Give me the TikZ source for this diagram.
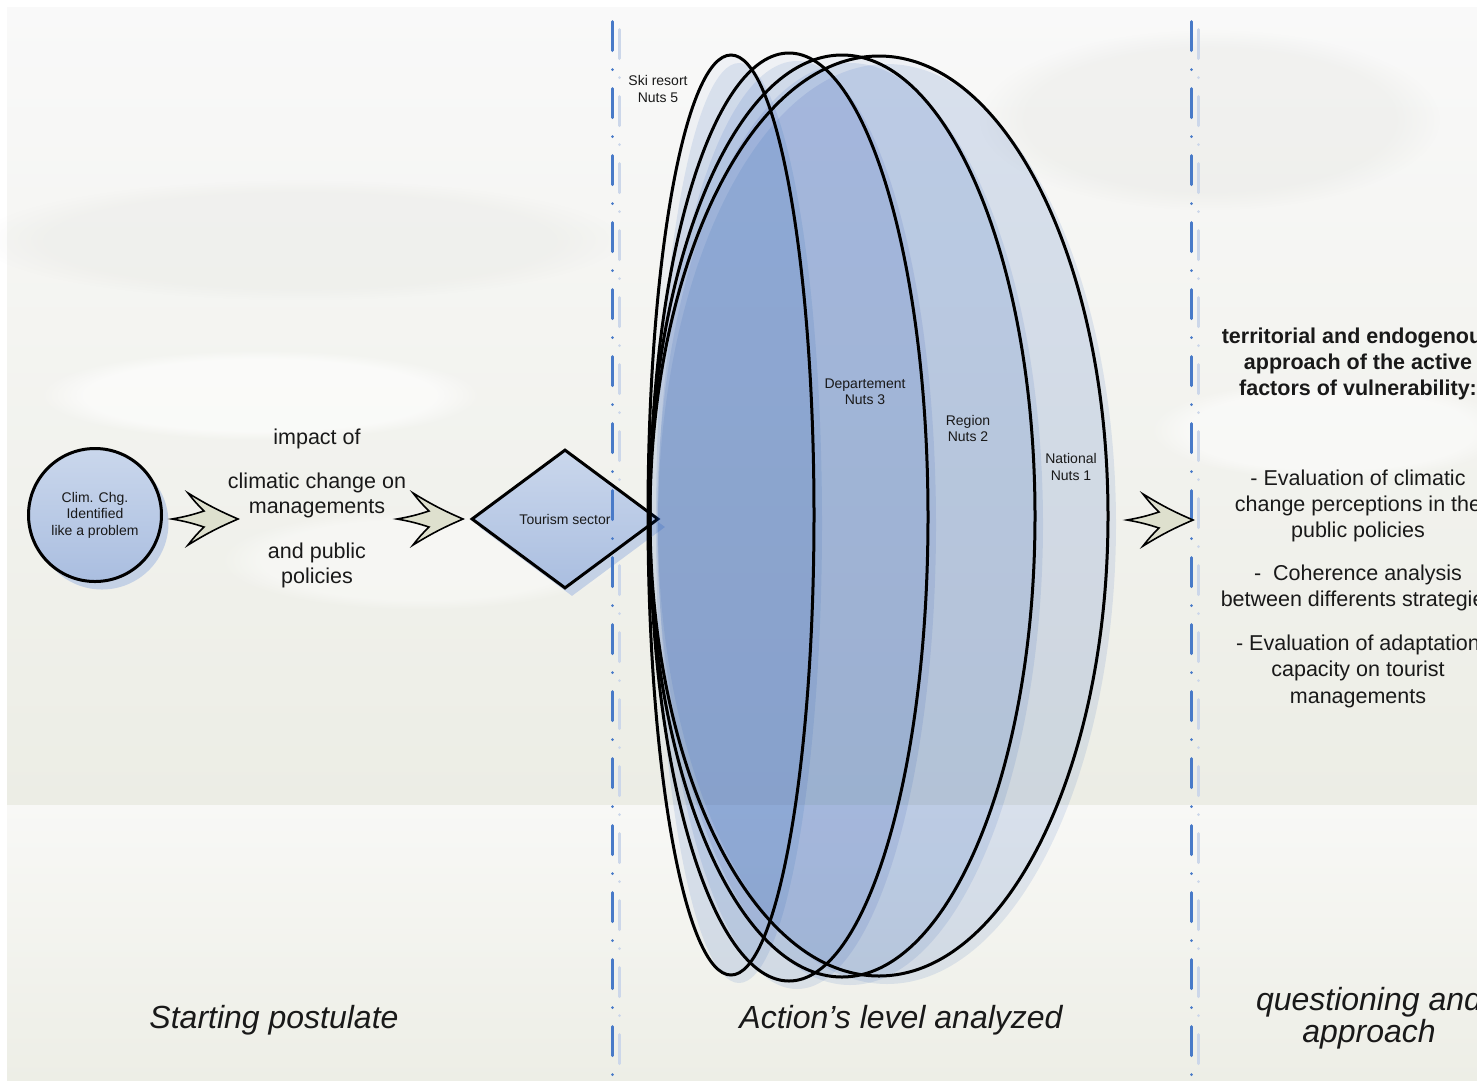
\documentclass[tikz,border=0pt]{standalone}
\usepackage{fontspec}
\setmainfont{Liberation Sans}
\usetikzlibrary{shapes.geometric,shadows,fadings}
\definecolor{bgA}{RGB}{249,249,249}
\definecolor{bgB}{RGB}{241,241,236}
\definecolor{bgC}{RGB}{236,237,229}
\definecolor{bgD}{RGB}{248,248,246}
\definecolor{bgE}{RGB}{237,238,230}
\definecolor{cloudgray}{RGB}{225,226,221}
\definecolor{lineblue}{RGB}{72,122,200}
\definecolor{lineshadow}{RGB}{204,215,234}
\definecolor{shadowblue}{RGB}{196,209,229}
\definecolor{ellblue}{RGB}{15,72,178}
\definecolor{circtop}{RGB}{202,215,236}
\definecolor{circbot}{RGB}{170,190,224}
\definecolor{chevfill}{RGB}{222,224,206}
\definecolor{txt}{RGB}{25,25,25}
\tikzset{
  dashdotline/.style={line width=3pt, line cap=round, dash pattern=on 29pt off 19pt on 0.01pt off 19pt},
  lvl/.style={ellipse, draw=black, line width=3pt, inner sep=0pt},
  ellshadow/.style={fill=ellblue, fill opacity=0.1},
  ellfill/.style={fill=ellblue, fill opacity=0.035},
  chevstyle/.style={draw=black, line width=1.6pt, fill=chevfill, line join=miter},
  chevron/.pic={\draw[chevstyle] (0,0) to[bend left=4] (-50,-26) to[bend right=4] (-34,-8) to[bend left=4] (-66,0) to[bend left=4] (-34,8) to[bend right=4] (-50,26) to[bend left=4] cycle;},
  midtxt/.style={anchor=base, inner sep=0pt, text=txt, font=\fontsize{21.5}{26}\selectfont},
  boldtxt/.style={anchor=base, inner sep=0pt, text=txt, font=\fontsize{21.5}{26}\selectfont\bfseries},
  smalltxt/.style={anchor=base, inner sep=0pt, text=txt, font=\fontsize{14}{16.5}\selectfont},
  bigtxt/.style={anchor=base, inner sep=0pt, text=txt, font=\fontsize{32}{38}\selectfont\itshape},
  myshadow/.style={drop shadow={shadow xshift=7pt, shadow yshift=-8pt, fill=shadowblue, opacity=1}},
  cloud/.style={path fading=circle with fuzzy edge 20 percent}
}
\begin{document}
\begin{tikzpicture}[x=1pt,y=-1pt]
\useasboundingbox (0,0) rectangle (1477,1080);
\begin{scope}
\clip (0,0) rectangle (1477,1080);
% background
\fill[white] (0,0) rectangle (1477,1080);
\shade[top color=bgA, middle color=bgB, bottom color=bgC] (7,7) rectangle (1477,805);
\shade[top color=bgD, bottom color=bgE] (7,805) rectangle (1477,1080);
% soft clouds
\fill[cloudgray, opacity=0.3, cloud] (1210,120) ellipse [x radius=230, y radius=90];
\fill[cloudgray, opacity=0.25, cloud] (300,240) ellipse [x radius=320, y radius=60];
\fill[white, opacity=0.6, cloud] (260,395) ellipse [x radius=220, y radius=45];
\fill[white, opacity=0.5, cloud] (1330,430) ellipse [x radius=180, y radius=50];
\fill[white, opacity=0.4, cloud] (420,560) ellipse [x radius=200, y radius=50];

% dash-dot separators
\coordinate (sepAtop) at (612,21.5);
\coordinate (sepAbot) at (612,1075);
\coordinate (sepBtop) at (1191,21.5);
\coordinate (sepBbot) at (1191,1075);
\draw[dashdotline, draw=lineshadow] ([shift={(7,8)}]sepAtop) -- ([shift={(7,8)}]sepAbot);
\draw[dashdotline, draw=lineshadow] ([shift={(7,8)}]sepBtop) -- ([shift={(7,8)}]sepBbot);

% circle
\node[circle, draw=black, line width=3pt, minimum size=133pt, inner sep=0pt,
      top color=circtop, bottom color=circbot, myshadow, align=center, text=txt,
      font=\fontsize{14}{16.5}\selectfont] (clim) at (95,515) {Clim. Chg.\\Identified\\like a problem};

% diamond
\node[diamond, draw=black, line width=3pt, minimum width=187pt, minimum height=139pt, inner sep=0pt,
      top color=circtop, bottom color=circbot, myshadow] (tour) at (565,519) {};

\draw[dashdotline, draw=lineblue] (sepAtop) -- (sepAbot);
\draw[dashdotline, draw=lineblue] (sepBtop) -- (sepBbot);
\node[smalltxt] (tourlab) at (565,524) {Tourism sector};

% chevron arrows
\pic at (238,519) {chevron};
\pic at (463,519) {chevron};
\pic at (1193,520) {chevron};

% middle text
\node[midtxt] (m1) at (317,444) {impact of};
\node[midtxt] (m2) at (317,488) {climatic change on};
\node[midtxt] (m3) at (317,513) {managements};
\node[midtxt] (m4) at (317,558) {and public};
\node[midtxt] (m5) at (317,583) {policies};

% ellipses: shadows
\fill[ellshadow] (739,523) ellipse [x radius=83, y radius=460];
\fill[ellshadow] (797,525) ellipse [x radius=139, y radius=464];
\fill[ellshadow] (850,524) ellipse [x radius=193, y radius=461];
\fill[ellshadow] (887,524) ellipse [x radius=229, y radius=460];
% fills
\fill[ellfill] (879,516) ellipse [x radius=229, y radius=460];
\fill[ellfill] (842,516) ellipse [x radius=193, y radius=461];
\fill[ellfill] (789,517) ellipse [x radius=139, y radius=464];
\fill[ellfill] (731,515) ellipse [x radius=83, y radius=460];
% outlines
\node[lvl, minimum width=166pt, minimum height=920pt] (ski) at (731,515) {};
\node[lvl, minimum width=278pt, minimum height=928pt] (dept) at (789,517) {};
\node[lvl, minimum width=386pt, minimum height=922pt] (region) at (842,516) {};
\node[lvl, minimum width=458pt, minimum height=920pt] (national) at (879,516) {};

% ellipse labels
\node[smalltxt] (ski1) at (658,85) {Ski resort};
\node[smalltxt] (ski2) at (658,102) {Nuts 5};
\node[smalltxt] (dep1) at (865,388) {Departement};
\node[smalltxt] (dep2) at (865,404) {Nuts 3};
\node[smalltxt] (reg1) at (968,425) {Region};
\node[smalltxt] (reg2) at (968,441) {Nuts 2};
\node[smalltxt] (nat1) at (1071,463) {National};
\node[smalltxt] (nat2) at (1071,480) {Nuts 1};

% right text (cut at the right edge as in the original)
\node[boldtxt] (r1) at (1358,343) {territorial and endogenous};
\node[boldtxt] (r2) at (1358,369) {approach of the active};
\node[boldtxt] (r3) at (1358,395) {factors of vulnerability:};
\node[midtxt] (e1) at (1358,485) {- Evaluation of climatic};
\node[midtxt] (e2) at (1358,511) {change perceptions in the};
\node[midtxt] (e3) at (1358,537) {public policies};
\node[midtxt] (c1) at (1358,580) {-\ \ Coherence analysis};
\node[midtxt] (c2) at (1358,606) {between differents strategies};
\node[midtxt] (a1) at (1358,650) {- Evaluation of adaptation};
\node[midtxt] (a2) at (1358,676) {capacity on tourist};
\node[midtxt] (a3) at (1358,703) {managements};

% bottom captions
\node[bigtxt] (cap1) at (274,1028) {Starting postulate};
\node[bigtxt] (cap2) at (901,1028) {Action’s level analyzed};
\node[bigtxt] (cap3) at (1369,1010) {questioning and};
\node[bigtxt] (cap4) at (1369,1042) {approach};
\end{scope}
\end{tikzpicture}
\end{document}
